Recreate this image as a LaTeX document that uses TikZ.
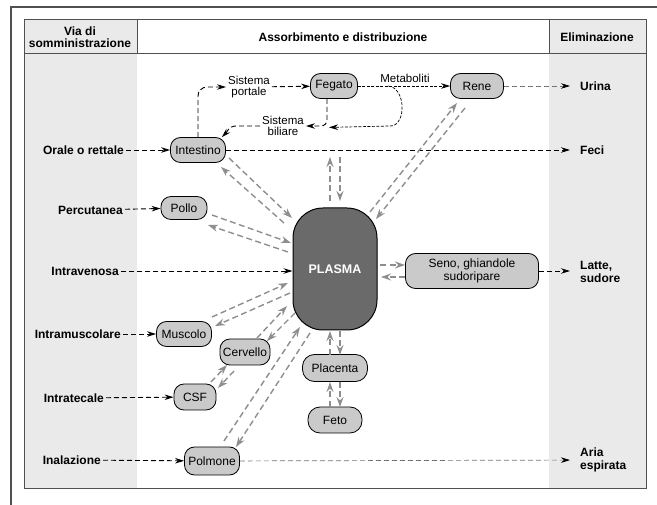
\documentclass[tikz,border=0pt]{standalone}
\usepackage{fontspec}
\setmainfont{Liberation Sans}
\usetikzlibrary{arrows.meta,calc}
\definecolor{colgray}{HTML}{EAEAEA}
\definecolor{organfill}{HTML}{CACACA}
\definecolor{plasmafill}{HTML}{6A6A6A}
\definecolor{exchgray}{HTML}{8E8E8E}
\definecolor{framegray}{HTML}{505050}
\begin{document}
\begin{tikzpicture}[x=1pt,y=-1pt,
  organ/.style={draw=black, line width=0.8pt, fill=organfill, rounded corners=10pt,
    minimum height=25pt, inner sep=1pt, font=\fontsize{12}{13}\selectfont},
  route/.style={anchor=east, font=\bfseries\fontsize{12}{13.5}\selectfont, inner sep=2pt},
  outlabel/.style={anchor=west, align=left, font=\bfseries\fontsize{12}{13.5}\selectfont,
    inner xsep=10pt, inner ysep=1pt},
  note/.style={align=center, font=\fontsize{11.5}{12.5}\selectfont, inner sep=2pt},
  head/.style={align=center, font=\bfseries\fontsize{12}{13.5}\selectfont},
  flow/.style={draw=black, line width=0.9pt, dash pattern=on 5pt off 3pt,
    -{Stealth[length=9pt,width=5.5pt]}},
  flowlight/.style={draw=black!55, line width=0.7pt, dash pattern=on 5pt off 3pt,
    -{Stealth[length=9pt,width=5.5pt,color=black]}},
  flowfine/.style={draw=black, line width=0.7pt, dash pattern=on 3pt off 1.5pt,
    -{Stealth[length=9pt,width=5.5pt]}},
  exch/.style={draw=exchgray, line width=1.4pt, dash pattern=on 6pt off 3.5pt,
    -{Stealth[length=10pt,width=7pt]}}
]
\useasboundingbox (0,0) rectangle (657,505);

% page frame
\draw[framegray, line width=1.2pt] (11,505) -- (11,7) -- (657,7);

% table: shaded side columns and header
\fill[colgray] (24,20) rectangle (137,489);
\fill[colgray] (549,20) rectangle (646,489);
\draw[framegray, line width=1pt] (24,20) rectangle (646,489);
\draw[framegray, line width=0.8pt] (24,53) -- (646,53);
\draw[framegray, line width=0.8pt] (137,20) -- (137,53);
\draw[framegray, line width=0.8pt] (549,20) -- (549,53);

\node[head] (hvia) at (80,37) {Via di\\[-2pt]somministrazione};
\node[head] (hass) at (343,37) {Assorbimento e distribuzione};
\node[head] (helim) at (597,37) {Eliminazione};

% organs and compartments
\node[draw=black, line width=1pt, fill=plasmafill, rounded corners=30pt,
  minimum width=84pt, minimum height=122pt, text=white,
  font=\bfseries\fontsize{12.5}{13}\selectfont] (plasma) at (335,269) {PLASMA};
\node[organ, minimum width=55pt] (intestino) at (198,150) {Intestino};
\node[organ, minimum width=47pt] (fegato) at (334,86) {Fegato};
\node[organ, minimum width=53pt] (rene) at (477,86) {Rene};
\node[organ, minimum width=46pt, minimum height=23pt] (pollo) at (184,208) {Pollo};
\node[organ, minimum width=133pt, minimum height=35pt, align=center,
  font=\fontsize{12}{13.5}\selectfont] (seno) at (472,271) {Seno, ghiandole\\sudoripare};
\node[organ, minimum width=55pt] (muscolo) at (184,334) {Muscolo};
\node[organ, minimum width=50pt, minimum height=26pt] (cervello) at (245,352) {Cervello};
\node[organ, minimum width=42pt, minimum height=26pt] (csf) at (195,397) {CSF};
\node[organ, minimum width=65pt, minimum height=27pt, rounded corners=12pt] (placenta) at (335,368) {Placenta};
\node[organ, minimum width=54pt, minimum height=26pt, rounded corners=12pt] (feto) at (335,420) {Feto};
\node[organ, minimum width=55pt, minimum height=28pt] (polmone) at (212,461) {Polmone};

% small labels on the hepatic pathways
\node[note] (portale) at (249,87) {Sistema\\[-1pt]portale};
\node[note] (biliare) at (283,126) {Sistema\\[-1pt]biliare};
\node[note] (metaboliti) at (405,78) {Metaboliti};

% administration routes
\node[route] (orale) at (126,150) {Orale o rettale};
\node[route] (percutanea) at (125,210) {Percutanea};
\node[route] (intravenosa) at (121,271) {Intravenosa};
\node[route] (intramuscolare) at (123,334) {Intramuscolare};
\node[route] (intratecale) at (106,398) {Intratecale};
\node[route] (inalazione) at (103,460) {Inalazione};

% elimination routes
\node[outlabel] (urina) at (570,86) {Urina};
\node[outlabel] (feci) at (570,150) {Feci};
\node[outlabel] (latte) at (570,272) {Latte,\\[-1pt]sudore};
\node[outlabel] (aria) at (570,460) {Aria\\[-1pt]espirata};

% entry arrows
\draw[flow] (orale) -- (intestino);
\draw[flow] (percutanea) -- (pollo);
\draw[flow] (intravenosa.east) -- (intravenosa.east -| plasma.west);
\draw[flow] (intramuscolare) -- (muscolo);
\draw[flow] (intratecale) -- (csf);
\draw[flow] (inalazione) -- (polmone);

% exit arrows
\draw[flowlight] (rene) -- (urina);
\draw[flow] (intestino) -- (feci);
\draw[flow] (seno.east) -- (seno.east -| latte.west);
\draw[flowlight] (polmone) -- (aria);

% enterohepatic circuit
\draw[flow, rounded corners=9pt] (intestino.north) |- (portale.west);
\draw[flow] (portale) -- (fegato);
\draw[flowfine] (fegato) -- (rene);
\coordinate (metab) at ($(fegato)!0.38!(rene)$);
\draw[flowfine] (metab) .. controls +(18,2) and +(16,0) .. ($(metab)+(2,40)$)
  -- ($(fegato.south)+(-5,28.5)$);
\draw[flow, rounded corners=6pt] ($(fegato.south)+(-7,0)$) |- (biliare.east);
\draw[flow] (biliare.west) -- ++(-24,0) to[out=180,in=45] ($(intestino.north east)+(-4,0)$);

% exchanges with the plasma
\coordinate (gut) at (intestino.east -| plasma.north);
\draw[exch] ($(intestino)+(31,8)$) -- ($(plasma)+(-43,-51)$);
\draw[exch] ($(plasma)+(-51,-46)$) -- ($(intestino)+(23,17)$);
\draw[exch] ($(pollo)+(28,7)$) -- ($(plasma)+(-44,-26)$);
\draw[exch] ($(plasma)+(-47,-17)$) -- ($(pollo)+(24,17)$);
\draw[exch] ($(plasma)+(45,-4)$) -- ($(seno)+(-67,-6)$);
\draw[exch] ($(seno)+(-67,6)$) -- ($(plasma)+(46,8)$);
\draw[exch] ($(plasma)+(-5,-68)$) -- ($(gut)+(-5,7)$);
\draw[exch] ($(gut)+(5,7)$) -- ($(plasma)+(5,-68)$);
\draw[exch] ($(plasma)+(35,-57)$) -- ($(rene)+(-20,17)$);
\draw[exch] ($(rene)+(-12,22)$) -- ($(plasma)+(41,-50)$);
\draw[exch] ($(muscolo)+(28,-17)$) -- ($(plasma)+(-47,14)$);
\draw[exch] ($(plasma)+(-45,24)$) -- ($(muscolo)+(31,-8)$);
\draw[exch] ($(cervello)+(12,-14)$) -- ($(plasma)+(-48,37)$);
\draw[exch] ($(plasma)+(-40,44)$) -- ($(cervello)+(22,-11)$);
\draw[exch] ($(csf)+(16,-15)$) -- ($(cervello)+(-18,13)$);
\draw[exch] ($(cervello)+(-11,19)$) -- ($(csf)+(23,-9)$);
\draw[exch] ($(polmone)+(12,-20)$) -- ($(plasma)+(-35,58)$);
\draw[exch] ($(plasma)+(-25,64)$) -- ($(polmone)+(24,-14)$);
\draw[exch] ($(placenta)+(-5,-13)$) -- ($(plasma)+(-5,62)$);
\draw[exch] ($(plasma)+(5,62)$) -- ($(placenta)+(5,-13)$);
\draw[exch] ($(feto)+(-5,-13)$) -- ($(placenta)+(-5,14)$);
\draw[exch] ($(placenta)+(5,14)$) -- ($(feto)+(5,-13)$);
\end{tikzpicture}
\end{document}
